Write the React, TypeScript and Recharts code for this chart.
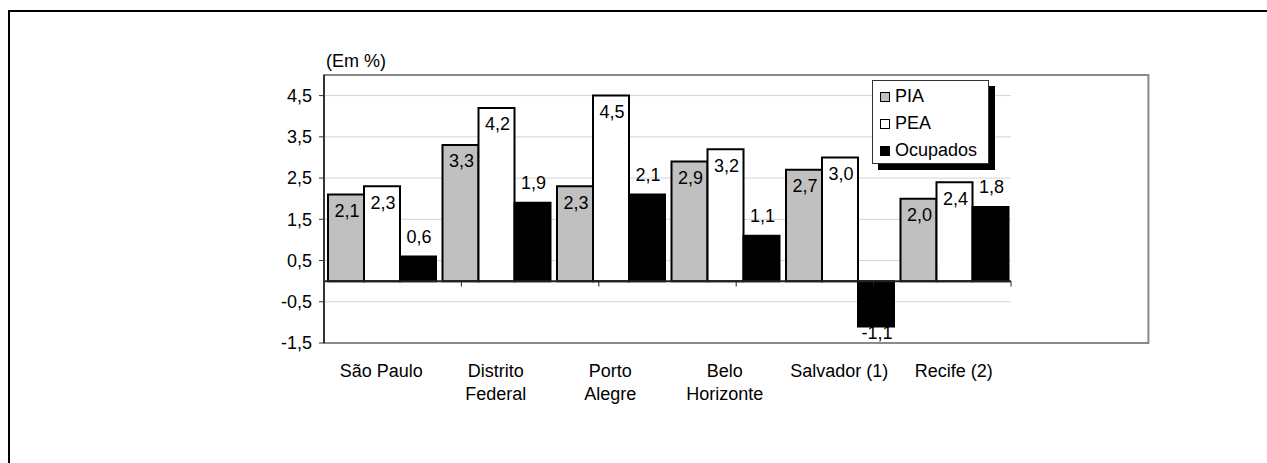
import React from 'react';
import {
  BarChart,
  Bar,
  XAxis,
  YAxis,
  CartesianGrid,
  ReferenceLine,
  ReferenceArea,
  Legend,
  LabelList,
} from 'recharts';

const FONT = '"Liberation Sans", Arial, sans-serif';

const categories = [
  'São Paulo',
  'Distrito\nFederal',
  'Porto\nAlegre',
  'Belo\nHorizonte',
  'Salvador (1)',
  'Recife (2)',
];
const piaValues = [2.1, 3.3, 2.3, 2.9, 2.7, 2.0];
const peaValues = [2.3, 4.2, 4.5, 3.2, 3.0, 2.4];
const ocupadosValues = [0.6, 1.9, 2.1, 1.1, -1.1, 1.8];
const yTicks = [-1.5, -0.5, 0.5, 1.5, 2.5, 3.5, 4.5];
const categoryBoundaries = [0, 1, 2, 3, 4, 5, 6];
const unitLabel = '(Em %)';

const series = [
  { key: 'pia', name: 'PIA', fill: '#c0c0c0', labelMode: 'inside' },
  { key: 'pea', name: 'PEA', fill: '#ffffff', labelMode: 'inside' },
  { key: 'ocupados', name: 'Ocupados', fill: '#000000', labelMode: 'outside' },
];

const data = categories.map((c, i) => ({
  category: c,
  pia: piaValues[i],
  pea: peaValues[i],
  ocupados: ocupadosValues[i],
}));

const fmt = (v: number) => Number(v).toFixed(1).replace('.', ',');

const makeLabel = (mode: string) => (props: any) => {
  const vb = props.viewBox || props;
  const x = vb.x ?? props.x;
  const y = vb.y ?? props.y;
  const width = vb.width ?? props.width;
  const height = vb.height ?? props.height;
  const value = Number(props.value);
  const top = Math.min(y, y + height);
  const bottom = Math.max(y, y + height);
  let cy: number;
  if (mode === 'inside') cy = top + 16;
  else cy = value >= 0 ? top - 20 : bottom + 6;
  return (
    <text
      x={x + width / 2 + 1}
      y={cy}
      dy="0.35em"
      textAnchor="middle"
      fontSize={18}
      fontFamily={FONT}
      fill="#000"
    >
      {fmt(value)}
    </text>
  );
};

const XTick = (props: any) => {
  const { x, y, payload } = props;
  const lines = String(payload.value).split('\n');
  return (
    <text x={x} y={y} textAnchor="middle" fontSize={18} fontFamily={FONT} fill="#000">
      {lines.map((l, i) => (
        <tspan key={i} x={x} dy={i === 0 ? 34 : 23}>
          {l}
        </tspan>
      ))}
    </text>
  );
};

const LegendContent = () => (
  <div
    style={{
      width: 117,
      height: 84,
      boxSizing: 'border-box',
      border: '1px solid #333',
      background: '#fff',
      boxShadow: '6px 6px 0 #000',
      paddingTop: 2,
      paddingLeft: 7,
      fontFamily: FONT,
      fontSize: 18,
      color: '#000',
    }}
  >
    {series.map((s) => (
      <div key={s.key} style={{ display: 'flex', alignItems: 'center', height: 27 }}>
        <div
          style={{
            width: 10,
            height: 10,
            boxSizing: 'border-box',
            border: '1px solid #000',
            background: s.fill,
            marginRight: 5,
          }}
        />
        <span style={{ lineHeight: '27px' }}>{s.name}</span>
      </div>
    ))}
  </div>
);

export default function App() {
  return (
    <div
      style={{
        position: 'fixed',
        left: 8,
        top: 10,
        right: 0,
        bottom: 0,
        borderTop: '2px solid #000',
        borderLeft: '2px solid #000',
        background: '#fff',
      }}
    >
      <div
        style={{
          position: 'absolute',
          left: 316,
          top: 39,
          fontSize: 18,
          lineHeight: '20px',
          fontFamily: FONT,
          color: '#000',
          whiteSpace: 'nowrap',
        }}
      >
        {unitLabel}
      </div>
      <div style={{ position: 'absolute', left: 0, top: 0 }}>
        <BarChart
          width={1240}
          height={440}
          data={data}
          margin={{ top: 63, right: 239, bottom: 49, left: 254 }}
          barCategoryGap={4}
          barGap={0}
        >
          <CartesianGrid vertical={false} stroke="#d4d4d4" />
          <ReferenceArea
            xAxisId="b"
            x1={0}
            x2={6}
            y1={-1.5}
            y2={5}
            fill="none"
            fillOpacity={0}
            stroke="#8a8a8a"
            strokeWidth={2}
            ifOverflow="visible"
          />
          <XAxis
            dataKey="category"
            interval={0}
            axisLine={false}
            tickLine={false}
            tickSize={0}
            tickMargin={0}
            height={60}
            tick={<XTick />}
          />
          <XAxis xAxisId="b" type="number" domain={[0, 6]} hide allowDataOverflow />
          <YAxis
            domain={[-1.5, 5]}
            ticks={yTicks}
            interval={0}
            allowDataOverflow
            tickFormatter={fmt}
            tick={{ fontSize: 18, fill: '#000', fontFamily: FONT }}
            tickSize={5}
            tickMargin={7}
            width={60}
            axisLine={{ stroke: '#333', strokeWidth: 2 }}
            tickLine={{ stroke: '#333' }}
          />
          {series.map((s) => (
            <Bar
              key={s.key}
              dataKey={s.key}
              name={s.name}
              fill={s.fill}
              stroke="#000"
              strokeWidth={2}
              isAnimationActive={false}
            >
              <LabelList dataKey={s.key} content={makeLabel(s.labelMode)} />
            </Bar>
          ))}
          <ReferenceLine y={0} stroke="#222" strokeWidth={2} />
          {categoryBoundaries.map((b) => (
            <ReferenceLine
              key={'t' + b}
              xAxisId="b"
              segment={[
                { x: b, y: 0 },
                { x: b, y: -0.13 },
              ]}
              stroke="#222"
              strokeWidth={1}
            />
          ))}
          <Legend
            layout="vertical"
            align="center"
            verticalAlign="middle"
            wrapperStyle={{ left: 862, top: 68, width: 'auto', height: 'auto' }}
            content={<LegendContent />}
          />
        </BarChart>
      </div>
    </div>
  );
}
